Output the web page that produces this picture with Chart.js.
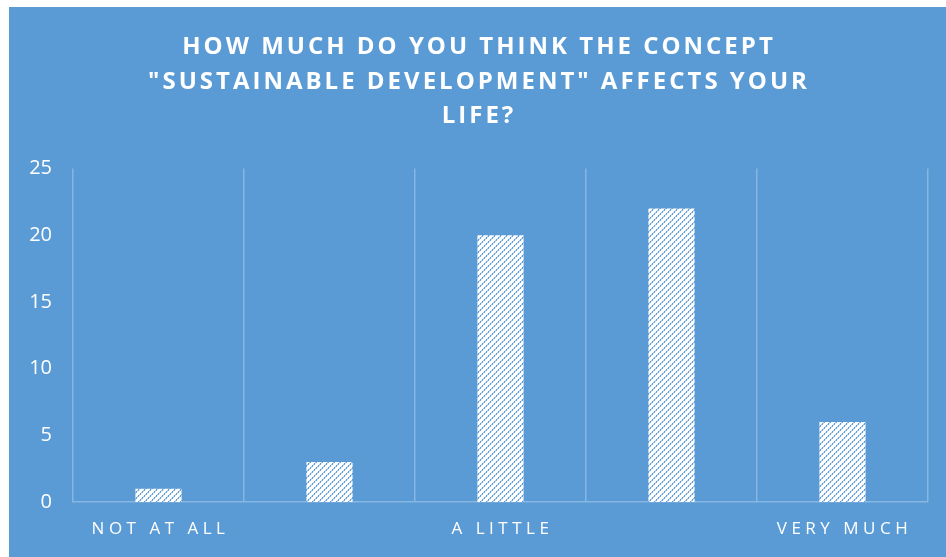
<!DOCTYPE html>
<html>
<head>
<meta charset="utf-8">
<script src="https://cdn.jsdelivr.net/npm/chart.js@4/dist/chart.umd.min.js"></script>
<style>
  html, body { margin: 0; padding: 0; background: #fff; }
  #wrap { position: absolute; left: 9px; top: 7px; width: 937px; height: 550px; background: #5b9bd5; }
</style>
</head>
<body>
<div id="wrap"><canvas id="chart"></canvas></div>
<script>
const categories = ['NOT AT ALL', '', 'A LITTLE', '', 'VERY MUCH'];
const answers = [1, 3, 20, 22, 6];
const titleLines = ['HOW MUCH DO YOU THINK THE CONCEPT', '"SUSTAINABLE DEVELOPMENT" AFFECTS YOUR', 'LIFE?'];

const bg = '#5b9bd5';
const grid = '#86b6e2';

// white fill with dotted blue upward diagonals
function hatch() {
  const c = document.createElement('canvas');
  c.width = 6; c.height = 6;
  const g = c.getContext('2d');
  g.fillStyle = '#ffffff';
  g.fillRect(0, 0, 6, 6);
  for (let i = 0; i < 6; i++) {
    g.fillStyle = i % 2 ? '#5b9bd5' : '#a6c8ea';
    g.fillRect(i, 5 - i, 1, 1);
    g.fillStyle = i % 2 ? '#c9def3' : '#6fa6da';
    g.fillRect((i + 1) % 6, 5 - i, 1, 1);
  }
  return g.createPattern(c, 'repeat');
}

function wrap(box, name, sp, dx) {
  if (!box || box['_w' + name]) return;
  const orig = box[name];
  box[name] = function (...args) {
    const ctx = this.ctx;
    ctx.save();
    ctx.letterSpacing = sp;
    ctx.translate(dx, 0);
    orig.apply(this, args);
    ctx.restore();
  };
  box['_w' + name] = true;
}

// letter spacing: title and x labels spaced; title centred on the full panel
const spacing = {
  id: 'spacing',
  afterLayout(chart) {
    wrap(chart.titleBlock, 'draw', '3px', 10.5);
    wrap(chart.scales.x, 'drawLabels', '4.5px', 2);
  }
};

new Chart(document.getElementById('chart'), {
  type: 'bar',
  data: {
    labels: categories,
    datasets: [{
      data: answers,
      backgroundColor: hatch(),
      borderWidth: 0,
      barPercentage: 0.27,
      categoryPercentage: 1
    }]
  },
  options: {
    responsive: true,
    maintainAspectRatio: false,
    animation: false,
    layout: { padding: { left: 0, right: 18, top: 0, bottom: 0 } },
    plugins: {
      legend: { display: false },
      tooltip: { enabled: false },
      title: {
        display: true,
        text: titleLines,
        color: '#ffffff',
        font: { family: "'Liberation Sans Narrow', 'Open Sans'", size: 24, weight: 'bold', lineHeight: 1.4375 },
        padding: { top: 23, bottom: 35 }
      }
    },
    scales: {
      x: {
        afterFit(s) { s.height = 55; },
        grid: { display: true, offset: true, color: grid, lineWidth: 1.5, drawTicks: false },
        border: { display: true, color: grid, width: 1.5 },
        ticks: {
          color: '#ffffff',
          autoSkip: false,
          maxRotation: 0,
          padding: 17,
          font: { family: 'Open Sans', size: 17 }
        }
      },
      y: {
        min: 0,
        max: 25,
        afterFit(s) { s.width = 64; },
        grid: { display: false, drawTicks: false },
        border: { display: false },
        ticks: {
          stepSize: 5,
          color: '#ffffff',
          padding: 21,
          font: { family: 'Open Sans', size: 20 }
        }
      }
    }
  },
  plugins: [spacing]
});
</script>
</body>
</html>
